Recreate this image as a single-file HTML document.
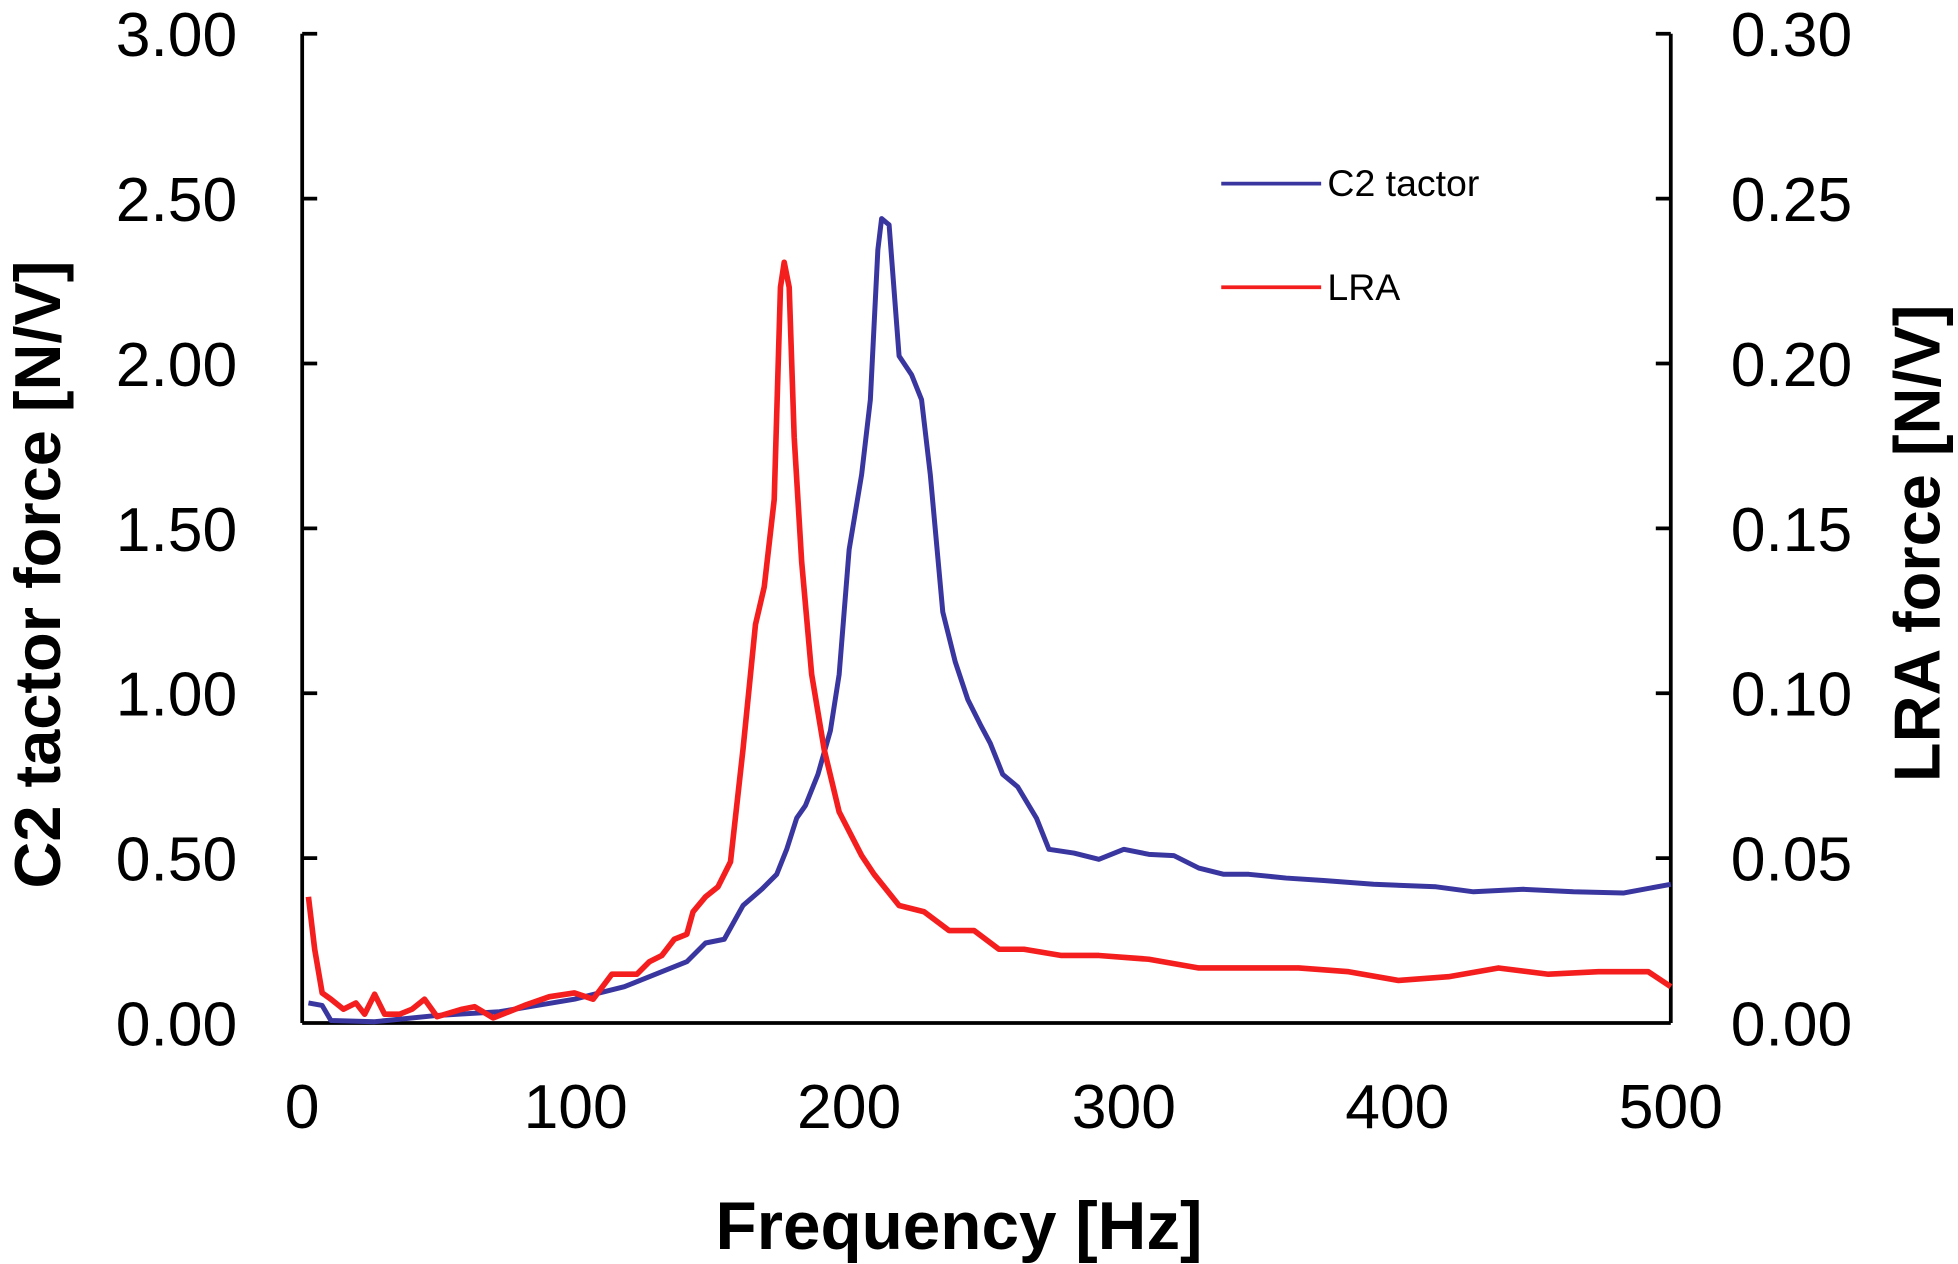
<!DOCTYPE html>
<html><head><style>html,body{margin:0;padding:0;background:#fff}svg{display:block}</style></head><body>
<svg width="1958" height="1264" viewBox="0 0 1568 1012" preserveAspectRatio="none" xmlns="http://www.w3.org/2000/svg" font-family="Liberation Sans, sans-serif">
<rect width="1568" height="1012" fill="#fff"/>
<g stroke="#000" stroke-width="3" fill="none">
<line x1="242" y1="27" x2="242" y2="819"/>
<line x1="1338" y1="27" x2="1338" y2="819"/>
<line x1="242" y1="819" x2="1338" y2="819"/>
<path d="M242 27h12M242 159h12M242 291h12M242 423h12M242 555h12M242 687h12M1338 27h-12M1338 159h-12M1338 291h-12M1338 423h-12M1338 555h-12M1338 687h-12"/>
</g>
<g font-size="50" text-anchor="end" fill="#000">
<text x="190" y="45">3.00</text><text x="190" y="177">2.50</text><text x="190" y="309">2.00</text><text x="190" y="441">1.50</text><text x="190" y="573">1.00</text><text x="190" y="705">0.50</text><text x="190" y="837">0.00</text>
</g>
<g font-size="50" text-anchor="start" fill="#000">
<text x="1386" y="45">0.30</text><text x="1386" y="177">0.25</text><text x="1386" y="309">0.20</text><text x="1386" y="441">0.15</text><text x="1386" y="573">0.10</text><text x="1386" y="705">0.05</text><text x="1386" y="837">0.00</text>
</g>
<g font-size="50" text-anchor="middle" fill="#000">
<text x="242" y="903">0</text><text x="461" y="903">100</text><text x="680" y="903">200</text><text x="900" y="903">300</text><text x="1119" y="903">400</text><text x="1338" y="903">500</text>
</g>
<text x="768" y="1000" font-size="54" font-weight="bold" text-anchor="middle">Frequency [Hz]</text>
<text transform="translate(48,460) rotate(-90)" font-size="52" font-weight="bold" text-anchor="middle">C2 tactor force [N/V]</text>
<text transform="translate(1553,435) rotate(-90)" font-size="52" font-weight="bold" text-anchor="middle">LRA force [N/V]</text>
<line x1="978" y1="147" x2="1058" y2="147" stroke="#3a36a0" stroke-width="3"/>
<text x="1063" y="157" font-size="30">C2 tactor</text>
<line x1="978" y1="230" x2="1058" y2="230" stroke="#f41e1e" stroke-width="3"/>
<text x="1063" y="240" font-size="30">LRA</text>
<polyline fill="none" stroke="#3a36a0" stroke-width="4" stroke-linejoin="round" points="247,803 258,805 265,817 300,818 350,813 400,810 430,805 460,800 500,790 530,778 550,770 565,755 580,752 595,725 610,712 622,700 630,680 638,655 645,645 655,620 665,585 672,540 680,440 690,380 697,320 703,200 706,175 712,180 720,285 730,300 738,320 745,380 755,490 765,530 775,560 785,580 793,595 803,620 815,630 830,655 840,680 860,683 880,688 900,680 920,684 940,685 960,695 980,700 1000,700 1030,703 1060,705 1100,708 1150,710 1180,714 1220,712 1260,714 1300,715 1338,708"/>
<polyline fill="none" stroke="#f41e1e" stroke-width="4.5" stroke-linejoin="round" points="247,718 252,760 258,795 265,800 275,808 285,803 292,812 300,796 308,812 320,812 330,808 340,800 350,814 370,808 380,806 395,815 420,805 440,798 460,795 475,800 490,780 510,780 520,770 530,765 540,752 550,748 555,730 565,718 575,710 585,690 595,600 605,500 612,470 620,400 625,230 628,210 632,230 636,350 642,450 650,540 660,600 672,650 690,685 700,700 720,725 740,730 760,745 780,745 800,760 820,760 850,765 880,765 920,768 960,775 1000,775 1040,775 1080,778 1120,785 1160,782 1200,775 1240,780 1280,778 1320,778 1338,790"/>
</svg>
</body></html>
